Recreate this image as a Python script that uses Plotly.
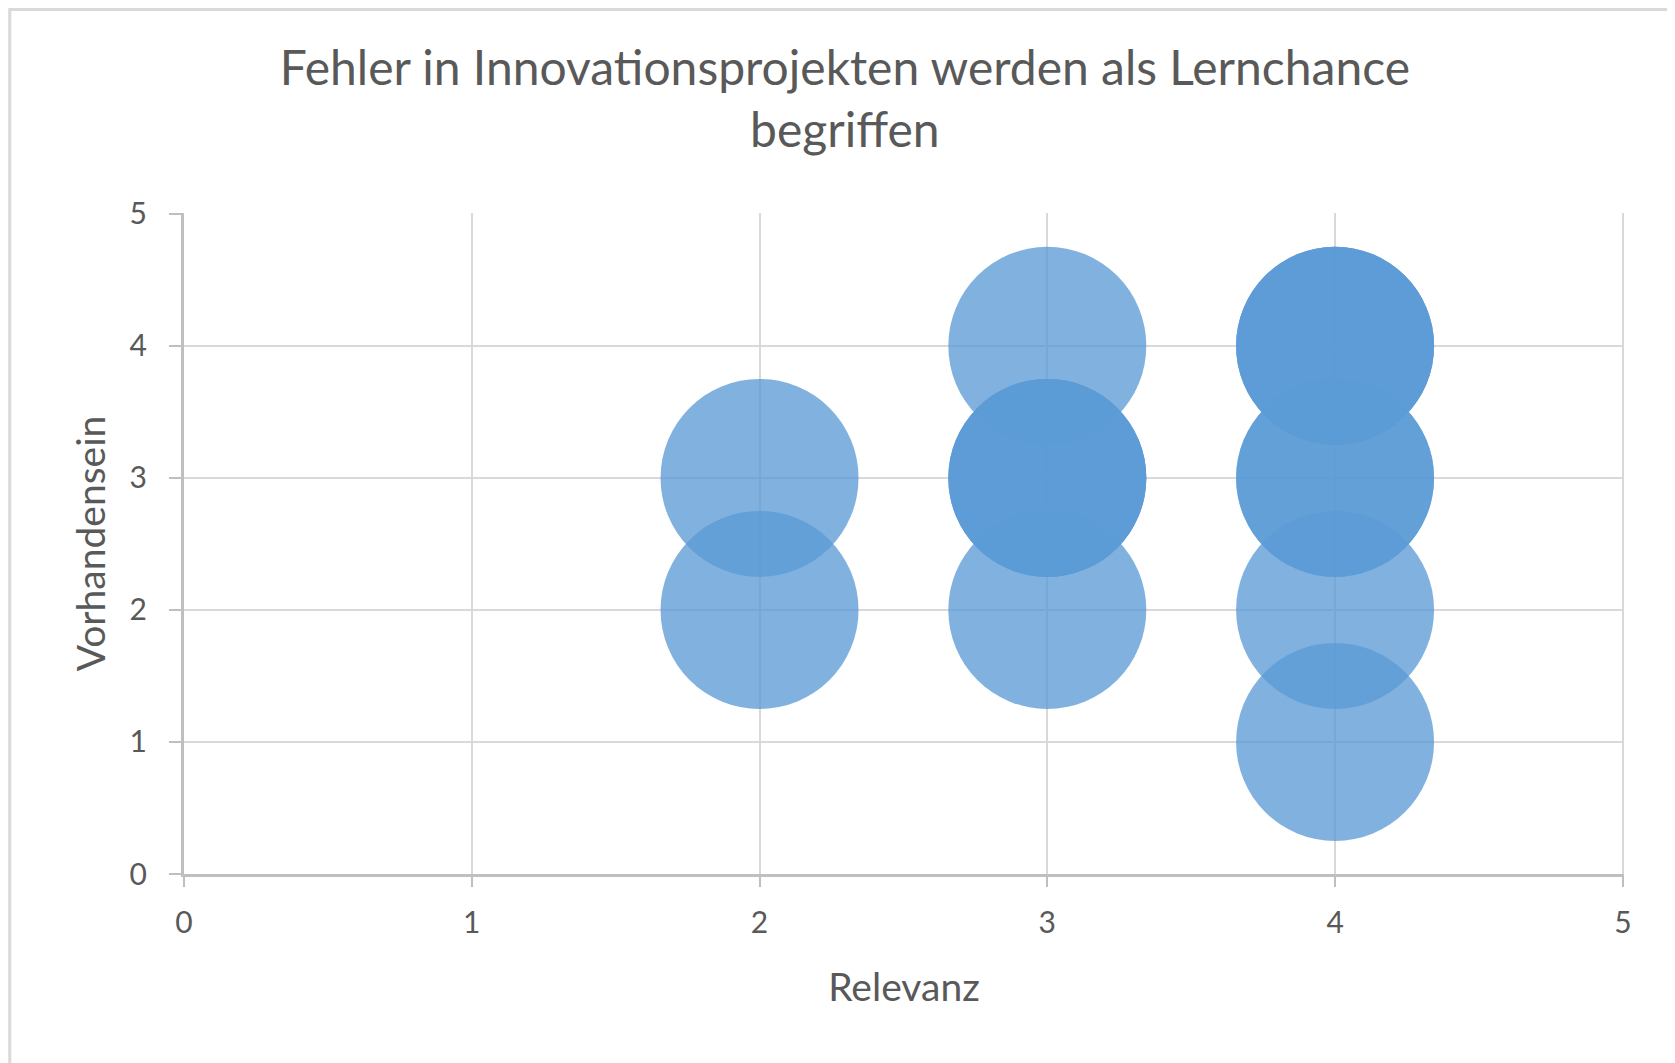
import plotly.graph_objects as go

# Bewertungen: Relevanz (x) und Vorhandensein (y), je Antwort ein Punkt
relevanz = [2, 2, 3, 3, 3, 3, 3, 4, 4, 4, 4, 4, 4, 4]
vorhandensein = [3, 2, 4, 3, 3, 3, 2, 4, 4, 4, 3, 3, 2, 1]

ticks = [0, 1, 2, 3, 4, 5]

GRID = '#D9D9D9'
AXIS = '#BFBFBF'
TXT = '#595959'
FONT = 'Lato, Open Sans, sans-serif'

fig = go.Figure()
fig.add_trace(go.Scatter(
    x=relevanz, y=vorhandensein, mode='markers',
    marker=dict(size=198, color='#5B9BD5', opacity=0.77, line=dict(width=0)),
    hoverinfo='x+y', showlegend=False,
))

# die Seite hat 8 px Rand, daher etwas kleiner als das Fenster
fig.update_layout(
    width=1667, height=1055,
    margin=dict(l=176, r=51, t=205, b=189),
    paper_bgcolor='white', plot_bgcolor='white',
    font=dict(family=FONT, color=TXT),
    title=dict(
        text='Fehler in Innovationsprojekten werden als Lernchance<br>begriffen',
        x=0.502, xanchor='center', xref='container',
        y=0.927, yanchor='middle', yref='container',
        font=dict(size=48, color=TXT, family=FONT),
    ),
    shapes=[dict(type='rect', xref='paper', yref='paper',
                 x0=-0.121, x1=1.06, y0=-0.35, y1=1.308,
                 line=dict(color=GRID, width=3), layer='below')],
)

fig.update_xaxes(
    range=[0, 5.004], tickvals=ticks, showgrid=True, gridcolor=GRID, gridwidth=2,
    showline=True, linecolor=AXIS, linewidth=3, zeroline=False,
    ticks='outside', ticklen=10, tickwidth=2, tickcolor=AXIS,
    tickfont=dict(size=30, color=TXT), ticklabelstandoff=10,
    title=dict(text='Relevanz', font=dict(size=39, color=TXT), standoff=36),
)
fig.update_yaxes(
    range=[0, 5.006], tickvals=ticks, showgrid=True, gridcolor=GRID, gridwidth=2,
    showline=True, linecolor=AXIS, linewidth=3, zeroline=False,
    ticks='outside', ticklen=12, tickwidth=2, tickcolor=AXIS,
    tickfont=dict(size=30, color=TXT), ticklabelstandoff=16,
    title=dict(text='Vorhandensein', font=dict(size=39, color=TXT), standoff=12),
)

fig.write_html('out.html')
